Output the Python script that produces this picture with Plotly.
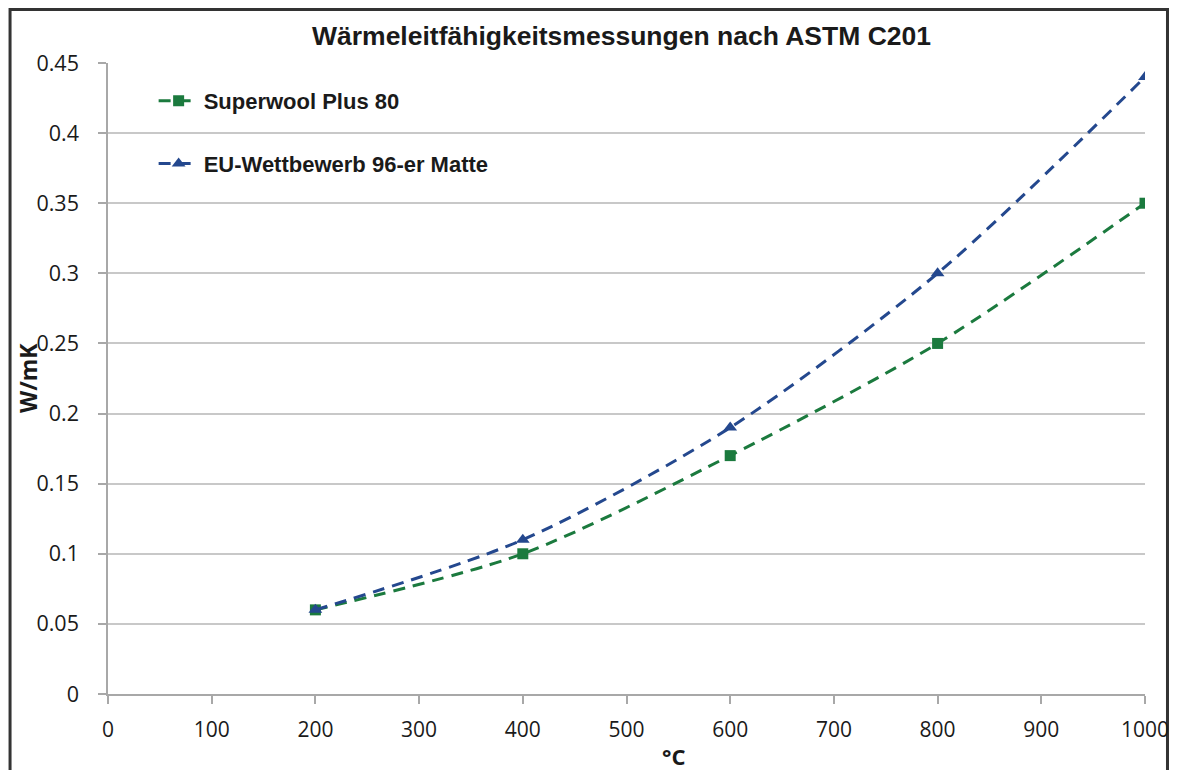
import plotly.graph_objects as go

temps = [200, 400, 600, 800, 1000]
superwool = [0.06, 0.10, 0.17, 0.25, 0.35]
eu_matte = [0.06, 0.11, 0.19, 0.30, 0.44]

series_names = ["Superwool Plus 80", "EU-Wettbewerb 96-er Matte"]
x_ticks = [0, 100, 200, 300, 400, 500, 600, 700, 800, 900, 1000]
y_ticks = [0, 0.05, 0.1, 0.15, 0.2, 0.25, 0.3, 0.35, 0.4, 0.45]
y_ticklabels = ["0", "0.05", "0.1", "0.15", "0.2", "0.25", "0.3", "0.35", "0.4", "0.45"]

green = "#1b7a3e"
blue = "#24488e"
txt = "#1a1a1a"

fig = go.Figure()
fig.add_trace(go.Scatter(
    x=temps, y=superwool, name="<b>" + series_names[0] + "</b>", mode="lines+markers",
    line=dict(color=green, width=3, dash="12px,8px", shape="spline", smoothing=0.8),
    marker=dict(symbol="square", size=11, color=green),
    legendgroup="a",
))
fig.add_trace(go.Scatter(
    x=temps, y=eu_matte, name="<b>" + series_names[1] + "</b>", mode="lines+markers",
    line=dict(color=blue, width=3, dash="12px,8px", shape="spline", smoothing=0.8),
    marker=dict(symbol="triangle-up", size=12, color=blue),
    legendgroup="b",
))

# page has an 8px body margin; figure sized to fit the window exactly
W, H = 1161, 762
L, R, T, B = 99.5, 24, 55, 76
pw, ph = W - L - R, H - T - B

fig.update_layout(
    width=W, height=H,
    margin=dict(l=L, r=R, t=T, b=B, autoexpand=False),
    paper_bgcolor="white", plot_bgcolor="white",
    title=dict(text="<b>Wärmeleitfähigkeitsmessungen nach ASTM C201</b>",
               x=613.5 / W, xanchor="center", y=1 - 28 / H, yanchor="middle",
               font=dict(family="Liberation Sans, Arial", size=26.5, color=txt)),
    legend=dict(x=0.044, y=0.973, xanchor="left", yanchor="top",
                bgcolor="rgba(0,0,0,0)", tracegroupgap=31, itemwidth=40,
                font=dict(family="Liberation Sans, Arial", size=22, color=txt),
                traceorder="grouped"),
    font=dict(family="Open Sans", color=txt),
    showlegend=True,
)
fig.update_xaxes(
    range=[0, 1000], tickvals=x_ticks, ticktext=[str(v) for v in x_ticks],
    automargin=False,
    showgrid=False, zeroline=False, showline=True, linecolor="#a8a8a8", linewidth=1.5,
    ticks="outside", ticklen=8, tickcolor="#a8a8a8", tickwidth=1.5,
    ticklabelstandoff=8, ticklabeloverflow="allow",
    tickfont=dict(family="Open Sans", size=21, color=txt),
)
fig.update_yaxes(
    range=[0, 0.45], tickvals=y_ticks, ticktext=y_ticklabels,
    automargin=False,
    showgrid=True, gridcolor="#c8c8c8", gridwidth=2,
    zeroline=False, showline=True, linecolor="#a8a8a8", linewidth=1.5,
    ticks="outside", ticklen=8, tickcolor="#a8a8a8", tickwidth=1.5,
    ticklabelstandoff=15, ticklabeloverflow="allow",
    tickfont=dict(family="Open Sans", size=21.5, color=txt),
)

# axis titles
fig.add_annotation(text="<b>°C</b>", xref="paper", yref="paper",
                   x=(665 - L) / pw, y=(H - B - 748) / ph, xanchor="center", yanchor="middle",
                   showarrow=False, font=dict(family="Open Sans", size=22, color=txt))
fig.add_annotation(text="<b>W/mK</b>", xref="paper", yref="paper", textangle=-90,
                   x=(19 - L) / pw, y=0.5, xanchor="center", yanchor="middle",
                   showarrow=False, font=dict(family="Open Sans", size=23, color=txt))

# outer frame
fig.add_shape(type="rect", xref="paper", yref="paper",
              x0=(1.5 - L) / pw, x1=(W - 1.5 - L) / pw,
              y0=(H - B - 800) / ph, y1=(H - B - 1.5) / ph,
              line=dict(color="#333333", width=3), fillcolor="rgba(0,0,0,0)", layer="below")

fig.write_html("out.html")
